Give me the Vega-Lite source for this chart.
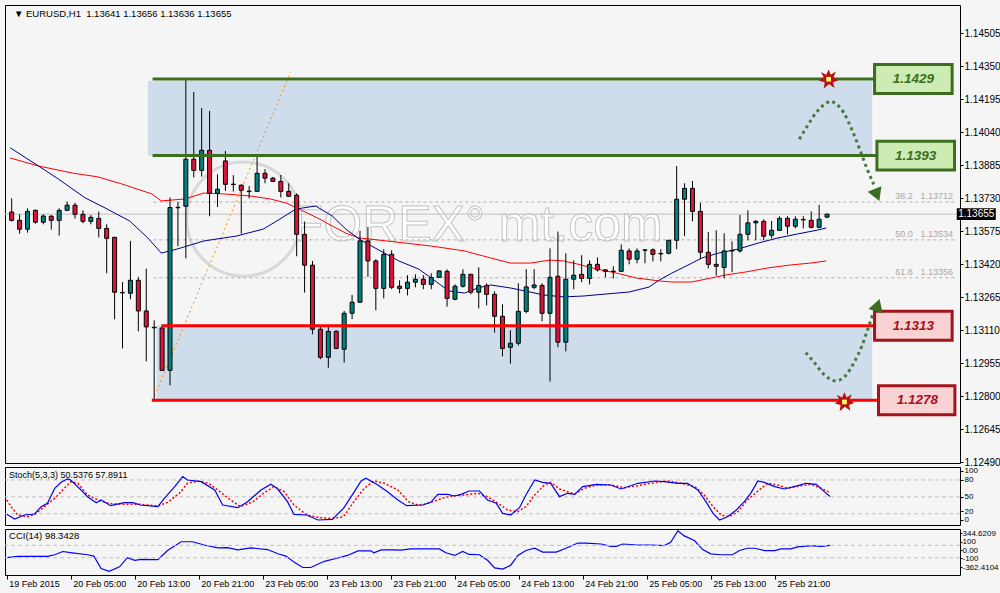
{
"$schema": "https://vega.github.io/schema/vega-lite/v6.json",
"background": "#f5f5f5",
"padding": {"left": 4, "top": 4, "right": 0, "bottom": 19},
"bounds": "flush",
"spacing": 4,
"config": {"view": {"stroke": "#000000", "strokeWidth": 1, "fill": "#f5f5f5"}, "font": "Liberation Sans", "axis": {"labelOverlap": false}},
"datasets": {
"candles": [
{"i":0,"o":1.13665,"h":1.13729,"l":1.1362,"c":1.13626},
{"i":1,"o":1.13626,"h":1.13654,"l":1.13563,"c":1.13584},
{"i":2,"o":1.13584,"h":1.13682,"l":1.13568,"c":1.13668},
{"i":3,"o":1.13673,"h":1.13676,"l":1.1361,"c":1.13617},
{"i":4,"o":1.13617,"h":1.13654,"l":1.13607,"c":1.13646},
{"i":5,"o":1.13645,"h":1.13651,"l":1.13582,"c":1.13626},
{"i":6,"o":1.13626,"h":1.13682,"l":1.13554,"c":1.13673},
{"i":7,"o":1.13673,"h":1.13715,"l":1.1367,"c":1.13697},
{"i":8,"o":1.13697,"h":1.13708,"l":1.13634,"c":1.13654},
{"i":9,"o":1.13654,"h":1.13673,"l":1.13612,"c":1.13621},
{"i":10,"o":1.13621,"h":1.13651,"l":1.13607,"c":1.1364},
{"i":11,"o":1.13635,"h":1.13667,"l":1.13545,"c":1.13588},
{"i":12,"o":1.13588,"h":1.13607,"l":1.13377,"c":1.13541},
{"i":13,"o":1.13546,"h":1.13548,"l":1.13161,"c":1.13288},
{"i":14,"o":1.13287,"h":1.13336,"l":1.13024,"c":1.13285},
{"i":15,"o":1.13283,"h":1.13529,"l":1.13255,"c":1.13344},
{"i":16,"o":1.13344,"h":1.1336,"l":1.13104,"c":1.132},
{"i":17,"o":1.132,"h":1.13399,"l":1.12963,"c":1.13125},
{"i":18,"o":1.13123,"h":1.13156,"l":1.1278,"c":1.13121},
{"i":19,"o":1.1312,"h":1.13122,"l":1.12918,"c":1.12921},
{"i":20,"o":1.12921,"h":1.13733,"l":1.1285,"c":1.13686},
{"i":21,"o":1.13685,"h":1.13712,"l":1.13504,"c":1.13687},
{"i":22,"o":1.13692,"h":1.14285,"l":1.13447,"c":1.13913},
{"i":23,"o":1.13913,"h":1.14229,"l":1.13827,"c":1.13861},
{"i":24,"o":1.13861,"h":1.14154,"l":1.13831,"c":1.13955},
{"i":25,"o":1.13955,"h":1.1414,"l":1.13645,"c":1.13753},
{"i":26,"o":1.13753,"h":1.13842,"l":1.13689,"c":1.13772},
{"i":27,"o":1.13905,"h":1.13952,"l":1.13764,"c":1.13795},
{"i":28,"o":1.13796,"h":1.13838,"l":1.13761,"c":1.13794},
{"i":29,"o":1.13791,"h":1.13795,"l":1.13563,"c":1.13767},
{"i":30,"o":1.13763,"h":1.13787,"l":1.13729,"c":1.13761},
{"i":31,"o":1.13762,"h":1.13925,"l":1.13759,"c":1.13847},
{"i":32,"o":1.13847,"h":1.13866,"l":1.138,"c":1.13824},
{"i":33,"o":1.13824,"h":1.1383,"l":1.13807,"c":1.13809},
{"i":34,"o":1.13809,"h":1.13839,"l":1.13733,"c":1.13762},
{"i":35,"o":1.13762,"h":1.138,"l":1.13737,"c":1.13739},
{"i":36,"o":1.13744,"h":1.13753,"l":1.13457,"c":1.1356},
{"i":37,"o":1.1356,"h":1.1362,"l":1.13286,"c":1.13415},
{"i":38,"o":1.13415,"h":1.13435,"l":1.1309,"c":1.13114},
{"i":39,"o":1.13114,"h":1.13125,"l":1.12973,"c":1.12982},
{"i":40,"o":1.12982,"h":1.13125,"l":1.12933,"c":1.13104},
{"i":41,"o":1.13104,"h":1.13109,"l":1.1302,"c":1.13024},
{"i":42,"o":1.1302,"h":1.132,"l":1.12957,"c":1.13189},
{"i":43,"o":1.13189,"h":1.13275,"l":1.13161,"c":1.13241},
{"i":44,"o":1.13241,"h":1.13576,"l":1.13239,"c":1.13529},
{"i":45,"o":1.13529,"h":1.13595,"l":1.1336,"c":1.13435},
{"i":46,"o":1.13435,"h":1.13443,"l":1.13203,"c":1.13306},
{"i":47,"o":1.13306,"h":1.1349,"l":1.13259,"c":1.13466},
{"i":48,"o":1.13466,"h":1.13485,"l":1.13302,"c":1.13311},
{"i":49,"o":1.13316,"h":1.13344,"l":1.13283,"c":1.13306},
{"i":50,"o":1.13306,"h":1.13368,"l":1.13273,"c":1.13335},
{"i":51,"o":1.13335,"h":1.13372,"l":1.13311,"c":1.13349},
{"i":52,"o":1.13349,"h":1.13368,"l":1.13302,"c":1.13325},
{"i":53,"o":1.13325,"h":1.13377,"l":1.13302,"c":1.13357},
{"i":54,"o":1.13358,"h":1.13391,"l":1.13357,"c":1.13388},
{"i":55,"o":1.13386,"h":1.13396,"l":1.1322,"c":1.13259},
{"i":56,"o":1.13255,"h":1.13325,"l":1.1325,"c":1.13316},
{"i":57,"o":1.13316,"h":1.13396,"l":1.1331,"c":1.13372},
{"i":58,"o":1.13372,"h":1.13375,"l":1.13278,"c":1.13288},
{"i":59,"o":1.13288,"h":1.13405,"l":1.13212,"c":1.1332},
{"i":60,"o":1.1332,"h":1.1333,"l":1.13226,"c":1.13278},
{"i":61,"o":1.13278,"h":1.13292,"l":1.13098,"c":1.13175},
{"i":62,"o":1.13175,"h":1.13231,"l":1.12987,"c":1.13024},
{"i":63,"o":1.13029,"h":1.13109,"l":1.12952,"c":1.13048},
{"i":64,"o":1.13048,"h":1.1333,"l":1.13038,"c":1.13198},
{"i":65,"o":1.13198,"h":1.13396,"l":1.13189,"c":1.13313},
{"i":66,"o":1.13311,"h":1.13396,"l":1.13302,"c":1.13322},
{"i":67,"o":1.1332,"h":1.1333,"l":1.13151,"c":1.13189},
{"i":68,"o":1.13189,"h":1.13494,"l":1.12868,"c":1.13358},
{"i":69,"o":1.13363,"h":1.13573,"l":1.13029,"c":1.13053},
{"i":70,"o":1.13053,"h":1.13471,"l":1.1301,"c":1.13349},
{"i":71,"o":1.13349,"h":1.13438,"l":1.13302,"c":1.13368},
{"i":72,"o":1.13372,"h":1.13462,"l":1.13335,"c":1.13353},
{"i":73,"o":1.13353,"h":1.13438,"l":1.13325,"c":1.13419},
{"i":74,"o":1.13419,"h":1.13452,"l":1.13385,"c":1.13393},
{"i":75,"o":1.13393,"h":1.13396,"l":1.13358,"c":1.13386},
{"i":76,"o":1.13387,"h":1.1341,"l":1.13353,"c":1.13385},
{"i":77,"o":1.13386,"h":1.13513,"l":1.13384,"c":1.13485},
{"i":78,"o":1.13482,"h":1.13494,"l":1.13419,"c":1.13443},
{"i":79,"o":1.13443,"h":1.13494,"l":1.13424,"c":1.13482},
{"i":80,"o":1.13485,"h":1.1349,"l":1.13424,"c":1.13487},
{"i":81,"o":1.13487,"h":1.13494,"l":1.13433,"c":1.13466},
{"i":82,"o":1.1347,"h":1.1349,"l":1.13433,"c":1.13468},
{"i":83,"o":1.13471,"h":1.13534,"l":1.13466,"c":1.13532},
{"i":84,"o":1.13532,"h":1.13881,"l":1.1349,"c":1.13725},
{"i":85,"o":1.13725,"h":1.138,"l":1.13552,"c":1.13776},
{"i":86,"o":1.13776,"h":1.13811,"l":1.13621,"c":1.13668},
{"i":87,"o":1.13668,"h":1.13708,"l":1.13443,"c":1.13476},
{"i":88,"o":1.13476,"h":1.13571,"l":1.134,"c":1.13419},
{"i":89,"o":1.13419,"h":1.13579,"l":1.13366,"c":1.1341},
{"i":90,"o":1.13404,"h":1.13565,"l":1.13353,"c":1.13482},
{"i":91,"o":1.13482,"h":1.13527,"l":1.13382,"c":1.13484},
{"i":92,"o":1.13482,"h":1.13651,"l":1.13474,"c":1.1356},
{"i":93,"o":1.1356,"h":1.13673,"l":1.13532,"c":1.13614},
{"i":94,"o":1.13614,"h":1.13628,"l":1.13532,"c":1.13621},
{"i":95,"o":1.13621,"h":1.13631,"l":1.13532,"c":1.13551},
{"i":96,"o":1.13556,"h":1.13623,"l":1.13541,"c":1.13579},
{"i":97,"o":1.13579,"h":1.13645,"l":1.13576,"c":1.13635},
{"i":98,"o":1.13635,"h":1.13645,"l":1.1356,"c":1.13598},
{"i":99,"o":1.13598,"h":1.13645,"l":1.13588,"c":1.13631},
{"i":100,"o":1.13628,"h":1.13645,"l":1.13588,"c":1.1363},
{"i":101,"o":1.13626,"h":1.13668,"l":1.13588,"c":1.13593},
{"i":102,"o":1.13593,"h":1.13698,"l":1.13588,"c":1.13631},
{"i":103,"o":1.13641,"h":1.13656,"l":1.13636,"c":1.13655}
],
"maFast": [
{"i":-0.2,"p":1.13967},{"i":3.4,"p":1.13881},{"i":5.9,"p":1.1382},{"i":9.3,"p":1.13731},{"i":11.8,"p":1.13684},{"i":14.9,"p":1.13623},{"i":17.2,"p":1.13543},{"i":18.9,"p":1.13472},{"i":20.9,"p":1.13491},{"i":24.3,"p":1.13529},{"i":28.4,"p":1.13552},{"i":31.8,"p":1.13585},{"i":33.9,"p":1.13632},{"i":35.9,"p":1.13679},{"i":38.4,"p":1.13693},{"i":40.5,"p":1.13646},{"i":42.2,"p":1.13585},{"i":43.9,"p":1.13538},{"i":45.9,"p":1.13496},{"i":48.9,"p":1.13435},{"i":51.4,"p":1.13397},{"i":53.0,"p":1.13355},{"i":55.2,"p":1.13294},{"i":57.2,"p":1.13284},{"i":58.9,"p":1.13308},{"i":60.5,"p":1.13322},{"i":63.0,"p":1.13308},{"i":65.5,"p":1.13289},{"i":67.2,"p":1.13275},{"i":69.7,"p":1.13266},{"i":72.2,"p":1.1327},{"i":75.2,"p":1.1328},{"i":78.0,"p":1.13289},{"i":80.5,"p":1.13312},{"i":81.8,"p":1.13345},{"i":83.4,"p":1.13378},{"i":85.2,"p":1.13411},{"i":87.2,"p":1.13449},{"i":89.3,"p":1.13472},{"i":91.8,"p":1.13491},{"i":94.3,"p":1.13519},{"i":96.8,"p":1.13543},{"i":99.3,"p":1.13562},{"i":101.8,"p":1.1358},{"i":102.9,"p":1.1359}
],
"maSlow": [
{"i":-0.2,"p":1.13919},{"i":3.4,"p":1.13881},{"i":7.7,"p":1.13848},{"i":10.9,"p":1.1383},{"i":13.9,"p":1.13797},{"i":17.7,"p":1.1375},{"i":18.9,"p":1.13717},{"i":21.8,"p":1.13726},{"i":24.3,"p":1.13754},{"i":26.8,"p":1.1375},{"i":30.2,"p":1.1374},{"i":32.7,"p":1.13726},{"i":34.7,"p":1.13707},{"i":36.8,"p":1.1367},{"i":38.9,"p":1.13632},{"i":40.5,"p":1.13599},{"i":42.2,"p":1.13566},{"i":43.9,"p":1.13543},{"i":46.4,"p":1.13533},{"i":49.7,"p":1.13519},{"i":53.0,"p":1.13505},{"i":57.2,"p":1.13482},{"i":60.5,"p":1.13449},{"i":63.0,"p":1.13425},{"i":65.5,"p":1.13425},{"i":68.0,"p":1.13439},{"i":69.7,"p":1.13435},{"i":71.4,"p":1.13421},{"i":73.9,"p":1.13397},{"i":76.4,"p":1.13378},{"i":78.9,"p":1.13355},{"i":81.8,"p":1.13341},{"i":83.4,"p":1.13336},{"i":85.9,"p":1.13336},{"i":88.4,"p":1.13355},{"i":90.2,"p":1.13369},{"i":92.7,"p":1.13383},{"i":95.5,"p":1.13402},{"i":98.4,"p":1.13416},{"i":100.9,"p":1.13425},{"i":102.9,"p":1.13435}
],
"zones": [{"x1":17.2,"x2":108.7,"top":1.14281,"bottom":1.1393},{"x1":18.3,"x2":108.7,"top":1.1313,"bottom":1.12772}],
"levels": [
{"level":1.1429,"label":"1.1429","kind":"res","from":17.8,"to":109.3,"x1":109.0,"x2":118.8,"xc":113.9,"top":1.14358,"bottom":1.14222},
{"level":1.1393,"label":"1.1393","kind":"res","from":17.8,"to":109.3,"x1":109.3,"x2":119.1,"xc":114.2,"top":1.13998,"bottom":1.13862},
{"level":1.1313,"label":"1.1313","kind":"sup","from":18.9,"to":109.0,"x1":109.0,"x2":118.8,"xc":113.9,"top":1.13198,"bottom":1.13062},
{"level":1.1278,"label":"1.1278","kind":"sup","from":17.7,"to":109.5,"x1":109.5,"x2":119.15,"xc":114.4,"top":1.12848,"bottom":1.12712}
],
"fib": [
{"level":"38.2","price":1.13712,"label":"38.2\u00a0\u00a0\u00a01.13712"},
{"level":"50.0","price":1.13534,"label":"50.0\u00a0\u00a0\u00a01.13534"},
{"level":"61.8","price":1.13356,"label":"61.8\u00a0\u00a0\u00a01.13356"}
],
"fibTrend": [{"i":17.8,"p":1.1278},{"i":35.2,"p":1.1432}],
"price": [{"price":1.13655,"label":"1.13655"}],
"header": [{"main":"▼ EURUSD,H1\u00a0\u00a01.13641 1.13656 1.13636 1.13655","stoch":"Stoch(5,3,3) 50.5376 57.8911","cci":"CCI(14) 98.3428"}],
"watermark": [{"i":35.5,"p":1.13529,"text":"FOREX°\u00a0mt.com"}],
"globe": [{"i":29.3,"p":1.13632}],
"pathRes": [{"i":99.5,"p":1.14007},{"i":100.5,"p":1.14069},{"i":101.8,"p":1.1414},{"i":103.0,"p":1.14179},{"i":103.45,"p":1.14186},{"i":103.9,"p":1.14179},{"i":105.1,"p":1.14132},{"i":106.2,"p":1.14046},{"i":107.2,"p":1.13952},{"i":108.0,"p":1.13873},{"i":108.9,"p":1.13795}],
"pathSup": [{"i":100.3,"p":1.13004},{"i":101.4,"p":1.12957},{"i":102.6,"p":1.12902},{"i":104.1,"p":1.12871},{"i":105.3,"p":1.12894},{"i":106.4,"p":1.12957},{"i":107.4,"p":1.13035},{"i":108.2,"p":1.13121},{"i":108.8,"p":1.13186}],
"heads": [{"i":109.2,"p":1.13754,"dir":"down"},{"i":109.3,"p":1.13218,"dir":"up"}],
"stars": [{"i":103.2,"p":1.14289},{"i":105.2,"p":1.12772}],
"stochK": [
{"i":0,"v":18.9},{"i":1,"v":10.6},{"i":2.2,"v":17.7},{"i":3.5,"v":19.5},{"i":4.3,"v":32.5},{"i":5.1,"v":38.5},{"i":6,"v":65.2},{"i":6.8,"v":75.8},{"i":7.6,"v":81.8},{"i":8,"v":80},{"i":9.3,"v":62.2},{"i":10.1,"v":50.3},{"i":11.2,"v":39.6},{"i":11.8,"v":44.4},{"i":13,"v":34.3},{"i":14.7,"v":39.6},{"i":15.8,"v":39.6},{"i":16.7,"v":35.5},{"i":18.9,"v":32.5},{"i":19.7,"v":47.4},{"i":21,"v":68.1},{"i":22,"v":85.9},{"i":22.6,"v":80},{"i":24.3,"v":77},{"i":26,"v":62.2},{"i":27,"v":35.5},{"i":28.9,"v":30.7},{"i":30.1,"v":41.4},{"i":31.8,"v":62.2},{"i":33,"v":72.3},{"i":33.8,"v":65.2},{"i":35.1,"v":41.4},{"i":35.9,"v":18.9},{"i":37.5,"v":17.7},{"i":38.9,"v":8.8},{"i":40.7,"v":10},{"i":42.1,"v":29.5},{"i":43.4,"v":58},{"i":44.3,"v":78.2},{"i":44.9,"v":83},{"i":45.5,"v":78.2},{"i":46.4,"v":71.1},{"i":47.6,"v":59.2},{"i":48.9,"v":44.4},{"i":50,"v":34.3},{"i":52,"v":35.5},{"i":53,"v":40.2},{"i":53.9,"v":54.5},{"i":55.1,"v":54.5},{"i":56,"v":51.5},{"i":56.8,"v":54.5},{"i":57.8,"v":60.4},{"i":59.1,"v":60.4},{"i":60.1,"v":44.4},{"i":61.2,"v":38.5},{"i":62,"v":20.6},{"i":63,"v":17.7},{"i":64.1,"v":30.7},{"i":64.9,"v":53.3},{"i":66,"v":80},{"i":67,"v":75.8},{"i":68,"v":74.1},{"i":69.1,"v":50.3},{"i":70.1,"v":56.3},{"i":71,"v":54.5},{"i":72,"v":68.1},{"i":73.7,"v":72.3},{"i":75.5,"v":71.1},{"i":76.8,"v":64},{"i":78.9,"v":74.1},{"i":81,"v":78.2},{"i":82.2,"v":77},{"i":83.9,"v":74.1},{"i":85.1,"v":74.1},{"i":86.4,"v":62.2},{"i":87.4,"v":41.4},{"i":88.3,"v":20.6},{"i":89.1,"v":8.8},{"i":90.1,"v":14.7},{"i":91.2,"v":26.6},{"i":92.2,"v":41.4},{"i":93,"v":56.3},{"i":93.9,"v":78.2},{"i":94.7,"v":75.8},{"i":96,"v":68.1},{"i":97.2,"v":64},{"i":98.9,"v":69.9},{"i":99.9,"v":74.1},{"i":101.2,"v":72.3},{"i":102.2,"v":59.2},{"i":102.9,"v":50.5}
],
"stochD": [
{"i":0,"v":44.4},{"i":0.7,"v":29.5},{"i":1.4,"v":17.7},{"i":2.6,"v":14.7},{"i":3.5,"v":18.9},{"i":4.7,"v":32.5},{"i":6,"v":47.4},{"i":7.2,"v":65.2},{"i":8,"v":77},{"i":8.9,"v":74.1},{"i":10.1,"v":53.3},{"i":11.4,"v":44.4},{"i":12.7,"v":38.5},{"i":14.3,"v":36.7},{"i":16.7,"v":36.7},{"i":18.9,"v":33.7},{"i":20.1,"v":40.2},{"i":21.6,"v":56.3},{"i":22.6,"v":74.1},{"i":23.9,"v":78.2},{"i":25.2,"v":74.1},{"i":26.4,"v":62.2},{"i":27.7,"v":47.4},{"i":29.2,"v":32.5},{"i":30.8,"v":41.4},{"i":32.1,"v":56.3},{"i":33.4,"v":68.1},{"i":34.7,"v":59.2},{"i":35.9,"v":35.5},{"i":37.5,"v":17.7},{"i":39.1,"v":12.9},{"i":40.8,"v":11.7},{"i":42.1,"v":14.7},{"i":43.4,"v":41.4},{"i":44.7,"v":65.2},{"i":45.9,"v":78.2},{"i":47.2,"v":74.1},{"i":48.9,"v":62.2},{"i":50.2,"v":41.4},{"i":51.4,"v":35.5},{"i":52.2,"v":36.7},{"i":53.5,"v":42.6},{"i":54.7,"v":48.5},{"i":56,"v":52.1},{"i":57.2,"v":53.3},{"i":58.9,"v":56.3},{"i":60.1,"v":50.3},{"i":61.4,"v":38.5},{"i":62.6,"v":26.6},{"i":63.9,"v":23.6},{"i":64.9,"v":32.5},{"i":66,"v":53.3},{"i":67.2,"v":71.1},{"i":68,"v":75.8},{"i":69.1,"v":64},{"i":70.1,"v":59.2},{"i":71,"v":55.1},{"i":72.2,"v":65.2},{"i":73.7,"v":71.1},{"i":75.5,"v":71.1},{"i":77.2,"v":66.3},{"i":78.9,"v":69.9},{"i":80.5,"v":74.1},{"i":82.6,"v":78.2},{"i":84.3,"v":74.1},{"i":86,"v":68.1},{"i":87.2,"v":53.3},{"i":88.3,"v":32.5},{"i":89.3,"v":17.7},{"i":90.3,"v":14.7},{"i":91.4,"v":23.6},{"i":92.6,"v":44.4},{"i":93.9,"v":60.4},{"i":95.1,"v":74.1},{"i":96.4,"v":71.1},{"i":97.6,"v":65.2},{"i":99.3,"v":69.9},{"i":100.5,"v":72.3},{"i":101.8,"v":65.2},{"i":102.9,"v":57.9}
],
"cci": [
{"i":0,"v":-99.5},{"i":1.4,"v":-78.5},{"i":5.1,"v":-78.5},{"i":6,"v":-52},{"i":7,"v":0.5},{"i":8.2,"v":-20.6},{"i":10.1,"v":-52},{"i":10.9,"v":-73.2},{"i":11.8,"v":-273},{"i":12.8,"v":-320},{"i":14.1,"v":-247},{"i":15.1,"v":-99.5},{"i":16,"v":-141.6},{"i":16.8,"v":-125.8},{"i":18.9,"v":-131},{"i":20.1,"v":16.3},{"i":21.8,"v":158.4},{"i":23.2,"v":158.4},{"i":24.7,"v":105.7},{"i":26.4,"v":58.4},{"i":27.6,"v":63.6},{"i":28.9,"v":26.8},{"i":30.5,"v":58.4},{"i":32.6,"v":32.1},{"i":33.9,"v":-36.4},{"i":34.9,"v":-73.2},{"i":36,"v":-178.5},{"i":37,"v":-257.4},{"i":38,"v":-257.4},{"i":39.7,"v":-157.4},{"i":41.4,"v":-104.8},{"i":42.6,"v":-62.7},{"i":43.9,"v":11},{"i":45.5,"v":11},{"i":45.9,"v":-20.6},{"i":46.8,"v":26.8},{"i":48.4,"v":26.8},{"i":49.3,"v":21.5},{"i":50.5,"v":42.6},{"i":54.1,"v":42.6},{"i":54.9,"v":-20.6},{"i":56,"v":-62.7},{"i":57,"v":0.5},{"i":57.8,"v":-46.9},{"i":59.1,"v":-52},{"i":60.1,"v":-141.6},{"i":61,"v":-262.7},{"i":62,"v":-283.7},{"i":63,"v":-220.6},{"i":63.9,"v":-62.7},{"i":64.9,"v":16.3},{"i":66,"v":53.1},{"i":67,"v":-10},{"i":68.7,"v":-10},{"i":69.9,"v":53.1},{"i":71.4,"v":137.3},{"i":72.4,"v":137.3},{"i":74.3,"v":121.5},{"i":75.5,"v":84.7},{"i":76.2,"v":84.7},{"i":77,"v":121.5},{"i":78.9,"v":105.7},{"i":80.5,"v":105.7},{"i":82.2,"v":95.2},{"i":83,"v":147.8},{"i":83.9,"v":335},{"i":84.7,"v":253},{"i":86,"v":174.2},{"i":87,"v":32},{"i":88,"v":-36.4},{"i":89.3,"v":-52},{"i":90.7,"v":-52},{"i":91.6,"v":16.3},{"i":92.6,"v":53.1},{"i":93.5,"v":53.1},{"i":94.7,"v":16.3},{"i":96,"v":16.3},{"i":96.8,"v":42.6},{"i":98,"v":42.6},{"i":98.9,"v":74.2},{"i":100.5,"v":95.2},{"i":101.8,"v":84.7},{"i":102.9,"v":98.3}
],
"stochLevels": [{"v":20},{"v":50},{"v":80}],
"cciLevels": [{"v":100},{"v":-100}]
},
"vconcat": [
{
"width": 955, "height": 458,
"resolve": {"axis": {"y": "independent", "x": "independent"}},
"layer": [
{"data": {"name": "zones"}, "mark": {"type": "rect", "fill": "#cedcec"},
 "encoding": {"x": {"field": "x1", "type": "quantitative", "scale": {"domain": [-0.2125, 119.1625], "nice": false, "zero": false}, "axis": null, "title": null}, "x2": {"field": "x2"},
  "y": {"field": "top", "type": "quantitative", "scale": {"domain": [1.124853, 1.146379], "nice": false, "zero": false}, "title": null,
   "axis": {"orient": "right", "values": [1.1249, 1.12645, 1.128, 1.12955, 1.1311, 1.13265, 1.1342, 1.13575, 1.1373, 1.13885, 1.1404, 1.14195, 1.1435, 1.14505], "format": ".5f", "tickSize": 3, "tickColor": "#000000", "labelPadding": 1, "labelFontSize": 10, "labelFont": "Liberation Sans", "labelColor": "#000000", "domain": false, "grid": false, "title": null, "labelOverlap": false, "labelBound": false, "labelFlush": false}},
  "y2": {"field": "bottom"}}},
{"data": {"name": "header"}, "mark": {"type": "text", "font": "Liberation Sans", "fontSize": 9.5, "align": "left", "baseline": "middle", "fill": "#000000"},
 "encoding": {"x": {"datum": 0.29, "type": "quantitative", "scale": {"domain": [-0.2125, 119.1625], "nice": false, "zero": false}, "axis": null}, "y": {"datum": 1.14595, "type": "quantitative", "scale": {"domain": [1.124853, 1.146379], "nice": false, "zero": false}, "axis": null}, "text": {"field": "main"}}},
{"data": {"name": "globe"}, "mark": {"type": "point", "shape": "circle", "size": 13000, "filled": false, "stroke": "#d8d8d8", "strokeWidth": 3, "opacity": 1},
 "encoding": {"x": {"field": "i", "type": "quantitative", "scale": {"domain": [-0.2125, 119.1625], "nice": false, "zero": false}, "axis": null}, "y": {"field": "p", "type": "quantitative", "scale": {"domain": [1.124853, 1.146379], "nice": false, "zero": false}, "axis": null}}},
{"data": {"name": "watermark"}, "mark": {"type": "text", "font": "Liberation Sans", "fontSize": 50, "align": "left", "baseline": "alphabetic", "fill": "#ffffff", "stroke": "#c4c4c4", "strokeWidth": 1},
 "encoding": {"x": {"field": "i", "type": "quantitative", "scale": {"domain": [-0.2125, 119.1625], "nice": false, "zero": false}, "axis": null}, "y": {"field": "p", "type": "quantitative", "scale": {"domain": [1.124853, 1.146379], "nice": false, "zero": false}, "axis": null}, "text": {"field": "text"}}},
{"data": {"name": "price"}, "mark": {"type": "rule", "color": "#c0c0c0", "strokeWidth": 1},
 "encoding": {"y": {"field": "price", "type": "quantitative", "scale": {"domain": [1.124853, 1.146379], "nice": false, "zero": false}, "axis": null}}},
{"data": {"name": "fib"}, "mark": {"type": "rule", "color": "#b0b0b0", "strokeWidth": 1, "strokeDash": [3, 3]},
 "encoding": {"x": {"datum": 17.9, "type": "quantitative", "scale": {"domain": [-0.2125, 119.1625], "nice": false, "zero": false}, "axis": null}, "x2": {"datum": 119.16}, "y": {"field": "price", "type": "quantitative", "scale": {"domain": [1.124853, 1.146379], "nice": false, "zero": false}, "axis": null}}},
{"data": {"name": "fib"}, "mark": {"type": "text", "align": "right", "baseline": "bottom", "dy": -1, "fontSize": 9, "font": "Liberation Sans", "fill": "#a8a8a8"},
 "encoding": {"x": {"datum": 118.9, "type": "quantitative", "scale": {"domain": [-0.2125, 119.1625], "nice": false, "zero": false}, "axis": null}, "y": {"field": "price", "type": "quantitative", "scale": {"domain": [1.124853, 1.146379], "nice": false, "zero": false}, "axis": null}, "text": {"field": "label"}}},
{"data": {"name": "fibTrend"}, "mark": {"type": "line", "color": "#ff8c00", "strokeWidth": 1, "strokeDash": [2, 3]},
 "encoding": {"x": {"field": "i", "type": "quantitative", "scale": {"domain": [-0.2125, 119.1625], "nice": false, "zero": false}, "axis": null}, "y": {"field": "p", "type": "quantitative", "scale": {"domain": [1.124853, 1.146379], "nice": false, "zero": false}, "axis": null}}},
{"data": {"name": "maSlow"}, "mark": {"type": "line", "color": "#ff0000", "strokeWidth": 1, "clip": true},
 "encoding": {"x": {"field": "i", "type": "quantitative", "scale": {"domain": [-0.2125, 119.1625], "nice": false, "zero": false}, "axis": null}, "y": {"field": "p", "type": "quantitative", "scale": {"domain": [1.124853, 1.146379], "nice": false, "zero": false}, "axis": null}}},
{"data": {"name": "maFast"}, "mark": {"type": "line", "color": "#00008b", "strokeWidth": 1, "clip": true},
 "encoding": {"x": {"field": "i", "type": "quantitative", "scale": {"domain": [-0.2125, 119.1625], "nice": false, "zero": false}, "axis": null}, "y": {"field": "p", "type": "quantitative", "scale": {"domain": [1.124853, 1.146379], "nice": false, "zero": false}, "axis": null}}},
{"data": {"name": "candles"}, "mark": {"type": "rule", "color": "#000000", "strokeWidth": 1, "clip": true},
 "encoding": {"x": {"field": "i", "type": "quantitative", "scale": {"domain": [-0.2125, 119.1625], "nice": false, "zero": false}, "axis": null}, "y": {"field": "l", "type": "quantitative", "scale": {"domain": [1.124853, 1.146379], "nice": false, "zero": false}, "axis": null}, "y2": {"field": "h"}}},
{"data": {"name": "candles"}, "mark": {"type": "bar", "size": 4, "stroke": "#000000", "strokeWidth": 1, "clip": true},
 "encoding": {"x": {"field": "i", "type": "quantitative", "scale": {"domain": [-0.2125, 119.1625], "nice": false, "zero": false}, "axis": null}, "y": {"field": "o", "type": "quantitative", "scale": {"domain": [1.124853, 1.146379], "nice": false, "zero": false}, "axis": null}, "y2": {"field": "c"},
  "fill": {"condition": {"test": "datum.c >= datum.o", "value": "#008080"}, "value": "#dc143c"}}},
{"data": {"name": "levels"}, "mark": {"type": "rule", "strokeWidth": 3},
 "encoding": {"x": {"field": "from", "type": "quantitative", "scale": {"domain": [-0.2125, 119.1625], "nice": false, "zero": false}, "axis": null}, "x2": {"field": "to"}, "y": {"field": "level", "type": "quantitative", "scale": {"domain": [1.124853, 1.146379], "nice": false, "zero": false}, "axis": null},
  "color": {"condition": {"test": "datum.kind === 'res'", "value": "#3b6e1f"}, "value": "#ff0000"}}},
{"data": {"name": "levels"}, "mark": {"type": "rect", "strokeWidth": 3},
 "encoding": {"x": {"field": "x1", "type": "quantitative", "scale": {"domain": [-0.2125, 119.1625], "nice": false, "zero": false}, "axis": null}, "x2": {"field": "x2"}, "y": {"field": "top", "type": "quantitative", "scale": {"domain": [1.124853, 1.146379], "nice": false, "zero": false}, "axis": null}, "y2": {"field": "bottom"},
  "fill": {"condition": {"test": "datum.kind === 'res'", "value": "#ccecb4"}, "value": "#f9d3d3"},
  "stroke": {"condition": {"test": "datum.kind === 'res'", "value": "#3b6e1f"}, "value": "#a3141c"}}},
{"data": {"name": "levels"}, "mark": {"type": "text", "font": "Liberation Sans", "fontSize": 13.5, "fontWeight": "bold", "fontStyle": "italic", "align": "center", "baseline": "middle"},
 "encoding": {"x": {"field": "xc", "type": "quantitative", "scale": {"domain": [-0.2125, 119.1625], "nice": false, "zero": false}, "axis": null}, "y": {"field": "level", "type": "quantitative", "scale": {"domain": [1.124853, 1.146379], "nice": false, "zero": false}, "axis": null}, "text": {"field": "label"},
  "color": {"condition": {"test": "datum.kind === 'res'", "value": "#3b6e1f"}, "value": "#a3141c"}}},
{"data": {"name": "pathRes"}, "mark": {"type": "line", "color": "#467a3a", "strokeWidth": 3, "strokeDash": [3, 3.5], "interpolate": "monotone"},
 "encoding": {"x": {"field": "i", "type": "quantitative", "scale": {"domain": [-0.2125, 119.1625], "nice": false, "zero": false}, "axis": null}, "y": {"field": "p", "type": "quantitative", "scale": {"domain": [1.124853, 1.146379], "nice": false, "zero": false}, "axis": null}}},
{"data": {"name": "pathSup"}, "mark": {"type": "line", "color": "#467a3a", "strokeWidth": 3, "strokeDash": [3, 3.5], "interpolate": "monotone"},
 "encoding": {"x": {"field": "i", "type": "quantitative", "scale": {"domain": [-0.2125, 119.1625], "nice": false, "zero": false}, "axis": null}, "y": {"field": "p", "type": "quantitative", "scale": {"domain": [1.124853, 1.146379], "nice": false, "zero": false}, "axis": null}}},
{"data": {"name": "heads"}, "transform": [{"filter": "datum.dir === 'down'"}], "mark": {"type": "point", "shape": "triangle", "size": 220, "filled": true, "color": "#3b6e1f", "opacity": 1, "angle": 158},
 "encoding": {"x": {"field": "i", "type": "quantitative", "scale": {"domain": [-0.2125, 119.1625], "nice": false, "zero": false}, "axis": null}, "y": {"field": "p", "type": "quantitative", "scale": {"domain": [1.124853, 1.146379], "nice": false, "zero": false}, "axis": null}}},
{"data": {"name": "heads"}, "transform": [{"filter": "datum.dir === 'up'"}], "mark": {"type": "point", "shape": "triangle", "size": 220, "filled": true, "color": "#3b6e1f", "opacity": 1, "angle": 18},
 "encoding": {"x": {"field": "i", "type": "quantitative", "scale": {"domain": [-0.2125, 119.1625], "nice": false, "zero": false}, "axis": null}, "y": {"field": "p", "type": "quantitative", "scale": {"domain": [1.124853, 1.146379], "nice": false, "zero": false}, "axis": null}}},
{"data": {"name": "stars"}, "mark": {"type": "point", "shape": "M0,-1L0.22,-0.45L0.75,-0.8L0.5,-0.2L1,0.1L0.45,0.3L0.6,0.9L0.05,0.5L-0.5,0.95L-0.4,0.3L-1,0.15L-0.5,-0.2L-0.8,-0.75L-0.25,-0.45Z", "size": 380, "filled": true, "color": "#b81010", "opacity": 1},
 "encoding": {"x": {"field": "i", "type": "quantitative", "scale": {"domain": [-0.2125, 119.1625], "nice": false, "zero": false}, "axis": null}, "y": {"field": "p", "type": "quantitative", "scale": {"domain": [1.124853, 1.146379], "nice": false, "zero": false}, "axis": null}}},
{"data": {"name": "stars"}, "mark": {"type": "point", "shape": "square", "size": 22, "filled": true, "color": "#ffff66", "opacity": 1},
 "encoding": {"x": {"field": "i", "type": "quantitative", "scale": {"domain": [-0.2125, 119.1625], "nice": false, "zero": false}, "axis": null}, "y": {"field": "p", "type": "quantitative", "scale": {"domain": [1.124853, 1.146379], "nice": false, "zero": false}, "axis": null}}},
{"data": {"name": "price"}, "mark": {"type": "point", "shape": "M-1,-0.3H1V0.3H-1Z", "size": 1521, "filled": true, "color": "#000000", "opacity": 1},
 "encoding": {"x": {"datum": 121.85, "type": "quantitative", "scale": {"domain": [-0.2125, 119.1625], "nice": false, "zero": false}, "axis": null}, "y": {"field": "price", "type": "quantitative", "scale": {"domain": [1.124853, 1.146379], "nice": false, "zero": false}, "axis": null}}},
{"data": {"name": "price"}, "mark": {"type": "text", "font": "Liberation Sans", "fontSize": 10, "align": "center", "baseline": "middle", "fill": "#ffffff"},
 "encoding": {"x": {"datum": 121.85, "type": "quantitative", "scale": {"domain": [-0.2125, 119.1625], "nice": false, "zero": false}, "axis": null}, "y": {"field": "price", "type": "quantitative", "scale": {"domain": [1.124853, 1.146379], "nice": false, "zero": false}, "axis": null}, "text": {"field": "label"}}}
]
},
{
"width": 955, "height": 58,
"resolve": {"axis": {"y": "independent", "x": "independent"}},
"layer": [
{"data": {"name": "stochLevels"}, "mark": {"type": "rule", "color": "#c0c0c0", "strokeWidth": 1, "strokeDash": [4, 3]},
 "encoding": {"y": {"field": "v", "type": "quantitative", "scale": {"domain": [-0.1, 103.1], "nice": false, "zero": false}, "title": null,
  "axis": {"orient": "right", "values": [96, 80, 50, 24.8, 8.8], "labelExpr": "datum.value > 90 ? '100' : datum.value > 70 ? '80' : datum.value > 40 ? '50' : datum.value > 15 ? '20' : '0'", "tickSize": 3, "tickColor": "#000000", "labelPadding": 1, "labelFontSize": 8, "labelFont": "Liberation Sans", "labelColor": "#000000", "domain": false, "grid": false, "title": null, "labelOverlap": false, "labelBound": false, "labelFlush": false}}}},
{"data": {"name": "header"}, "mark": {"type": "text", "font": "Liberation Sans", "fontSize": 9, "align": "left", "baseline": "middle", "fill": "#000000"},
 "encoding": {"x": {"datum": 0.29, "type": "quantitative", "scale": {"domain": [-0.2125, 119.1625], "nice": false, "zero": false}, "axis": null}, "y": {"datum": 88.9, "type": "quantitative", "scale": {"domain": [-0.1, 103.1], "nice": false, "zero": false}, "axis": null}, "text": {"field": "stoch"}}},
{"data": {"name": "stochD"}, "mark": {"type": "line", "color": "#ff0000", "strokeWidth": 1.5, "strokeDash": [2, 2], "clip": true},
 "encoding": {"x": {"field": "i", "type": "quantitative", "scale": {"domain": [-0.2125, 119.1625], "nice": false, "zero": false}, "axis": null}, "y": {"field": "v", "type": "quantitative", "scale": {"domain": [-0.1, 103.1], "nice": false, "zero": false}, "axis": null}}},
{"data": {"name": "stochK"}, "mark": {"type": "line", "color": "#0000ff", "strokeWidth": 1.2, "clip": true},
 "encoding": {"x": {"field": "i", "type": "quantitative", "scale": {"domain": [-0.2125, 119.1625], "nice": false, "zero": false}, "axis": null}, "y": {"field": "v", "type": "quantitative", "scale": {"domain": [-0.1, 103.1], "nice": false, "zero": false}, "axis": null}}}
]
},
{
"width": 955, "height": 46,
"resolve": {"axis": {"y": "independent", "x": "independent"}},
"layer": [
{"data": {"name": "cci"}, "mark": {"type": "line", "color": "#0000ff", "strokeWidth": 1.2, "clip": true},
 "encoding": {"x": {"field": "i", "type": "quantitative", "scale": {"domain": [-0.2125, 119.1625], "nice": false, "zero": false}, "title": null,
   "axis": {"orient": "bottom", "values": [0, 8, 16, 24, 32, 40, 48, 56, 64, 72, 80, 88, 96], "labelExpr": "['19 Feb 2015','20 Feb 05:00','20 Feb 13:00','20 Feb 21:00','23 Feb 05:00','23 Feb 13:00','23 Feb 21:00','24 Feb 05:00','24 Feb 13:00','24 Feb 21:00','25 Feb 05:00','25 Feb 13:00','25 Feb 21:00'][round(datum.value/8)]", "tickSize": 4, "tickColor": "#000000", "labelAlign": "left", "labelBaseline": "top", "labelPadding": 0, "labelOffset": 2, "labelFontSize": 9, "labelFont": "Liberation Sans", "labelColor": "#000000", "domain": false, "grid": false, "title": null, "labelOverlap": false, "labelBound": false, "labelFlush": false}},
  "y": {"field": "v", "type": "quantitative", "scale": {"domain": [-378.4, 363.7], "nice": false, "zero": false}, "title": null,
   "axis": {"orient": "right", "values": [292.6, 158, 24, -110, -252], "labelExpr": "datum.value > 250 ? '344.6209' : datum.value > 100 ? '100' : datum.value > 0 ? '0.00' : datum.value > -200 ? '-100' : '-362.4104'", "tickSize": 2, "tickColor": "#000000", "labelPadding": 0, "labelFontSize": 8, "labelFont": "Liberation Sans", "labelColor": "#000000", "domain": false, "grid": false, "title": null, "labelOverlap": false, "labelBound": false, "labelFlush": false}}}},
{"data": {"name": "cciLevels"}, "mark": {"type": "rule", "color": "#c0c0c0", "strokeWidth": 1, "strokeDash": [4, 3]},
 "encoding": {"y": {"field": "v", "type": "quantitative", "scale": {"domain": [-378.4, 363.7], "nice": false, "zero": false}, "axis": null}}},
{"data": {"name": "header"}, "mark": {"type": "text", "font": "Liberation Sans", "fontSize": 9.5, "align": "left", "baseline": "middle", "fill": "#000000"},
 "encoding": {"x": {"datum": 0.29, "type": "quantitative", "scale": {"domain": [-0.2125, 119.1625], "nice": false, "zero": false}, "axis": null}, "y": {"datum": 250.8, "type": "quantitative", "scale": {"domain": [-378.4, 363.7], "nice": false, "zero": false}, "axis": null}, "text": {"field": "cci"}}}
]
}
]
}
